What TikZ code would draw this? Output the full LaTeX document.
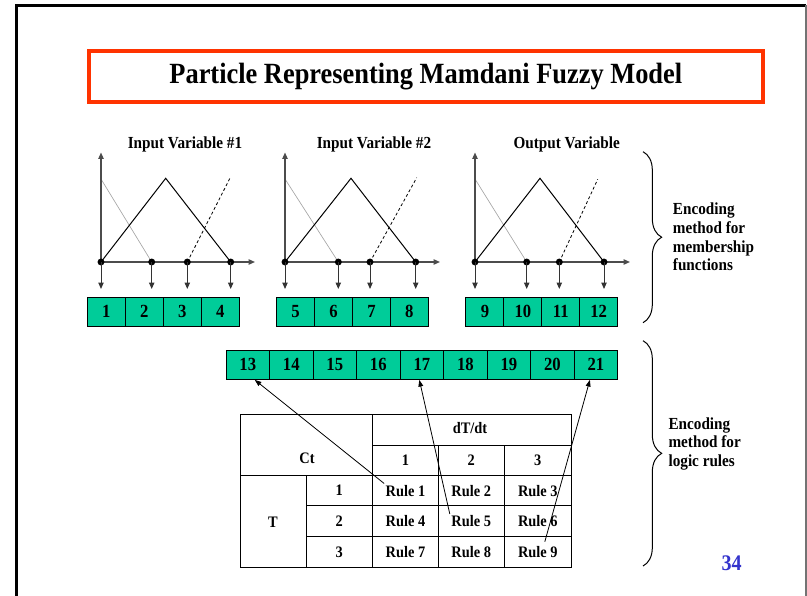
\documentclass[tikz,border=0pt]{standalone}
\usepackage{fontspec}
\setmainfont{Liberation Serif}[FakeStretch=0.9]
\usetikzlibrary{arrows.meta,calc,decorations.pathreplacing}
\definecolor{cellgreen}{RGB}{0,204,153}
\definecolor{titlered}{RGB}{255,51,0}
\definecolor{pageblue}{RGB}{51,51,204}
\tikzset{
  cell/.style={draw=black, line width=0.75pt, fill=cellgreen, inner sep=0pt,
    minimum width=28.5pt, minimum height=21.5pt,
    font=\bfseries\fontsize{13.9}{15}\selectfont},
  bigcell/.style={cell, minimum width=32.64pt, minimum height=22pt},
  dot/.style={circle, fill=black, inner sep=0pt, minimum size=5.2pt},
  axis/.style={draw=black!70, line width=1pt, -{Triangle[length=4.8pt,width=4pt]}},
  drop/.style={draw=black!80, line width=0.75pt, -{Triangle[length=4.8pt,width=4pt]}},
  mf/.style={draw=black, line width=0.75pt},
  mfgray/.style={draw=black!35, line width=0.5pt},
  mfdash/.style={draw=black, line width=0.6pt, dash pattern=on 2.2pt off 1.8pt},
  link/.style={draw=black, line width=0.6pt, -{Triangle[length=5pt,width=3.6pt]}},
  grid/.style={draw=black, line width=0.75pt},
  tabtext/.style={font=\bfseries\fontsize{12}{13}\selectfont, inner sep=1pt},
  gtitle/.style={font=\bfseries\fontsize{12.67}{14}\selectfont},
  notetext/.style={font=\bfseries\fontsize{12.67}{14}\selectfont, align=left, inner sep=0pt},
  curly/.style={draw=black, line width=0.75pt,
    decorate, decoration={brace, amplitude=14pt}},
}
\begin{document}
\begin{tikzpicture}[x=0.75pt, y=-0.75pt]
\useasboundingbox (0,0) rectangle (807,596);

% slide frame
\draw[line width=2.25pt] (16,600) -- (16,5) -- (806,5);
\draw[black!55, line width=1.5pt] (806,5) -- (806,600);

% title
\node[draw=titlered, line width=3pt, minimum width=505.8pt, minimum height=38.25pt,
      font=\bfseries\fontsize{22}{24}\selectfont] (title) at (425.8,76.5)
  {Particle Representing Mamdani Fuzzy Model};

% membership function plots
\node[gtitle] (h1) at (185,144) {Input Variable \#1};
\node[gtitle] (h2) at (374,144) {Input Variable \#2};
\node[gtitle] (h3) at (566.7,144) {Output Variable};

\foreach \g/\xo/\xg/\xd/\xr/\xp/\xe/\ye/\xa in
  {1/101/151.7/187.3/230.7/165.7/230.7/176.7/255,
   2/285/338.3/370/415.7/351/416.7/177.7/440,
   3/475/526.7/559.3/604/540/597.7/179.3/630}{
  \coordinate (q\g1) at (\xo,262);
  \coordinate (q\g2) at (\xg,262);
  \coordinate (q\g3) at (\xd,262);
  \coordinate (q\g4) at (\xr,262);
  \coordinate (top\g) at (\xo,152.5);
  \coordinate (end\g) at (\xa,262);
  \coordinate (pk\g) at (\xp,178.3);
  \coordinate (hi\g) at (\xo,179);
  \coordinate (de\g) at (\xe,\ye);
  \draw[mfgray] (hi\g) -- (q\g2);
  \draw[mf] (q\g1) -- (pk\g) -- (q\g4);
  \draw[mfdash] (q\g3) -- (de\g);
  \draw[axis] (q\g1) -- (top\g);
  \draw[axis] (q\g1) -- (end\g);
  \foreach \k in {1,...,4}{
    \node[dot] (m\g\k) at (q\g\k) {};
    \coordinate (t\g\k) at ($(q\g\k)+(0,27)$);
    \draw[drop] (m\g\k.center) -- (t\g\k);
  }
}

% encoded particle cells
\foreach \i in {1,...,4}
  \node[cell] (b\i) at ({87.3+38*(\i-0.5)},311.7) {\i};
\foreach \i in {5,...,8}
  \node[cell] (b\i) at ({276.7+37.9*(\i-4.5)},311.7) {\i};
\foreach \i in {9,...,12}
  \node[cell] (b\i) at ({466+37.9*(\i-8.5)},311.7) {\i};
\foreach \i in {13,...,21}
  \node[bigcell] (b\i) at ({226+43.52*(\i-12.5)},364.7) {\i};

% rule table grid
\draw[grid] (240,414.3) rectangle (571.7,567.3);
\draw[grid] (372.7,414.3) -- (372.7,567.3);
\draw[grid] (306,475.7) -- (306,567.3);
\draw[grid] (438.3,445) -- (438.3,567.3);
\draw[grid] (504,445) -- (504,567.3);
\draw[grid] (372.7,445) -- (571.7,445);
\draw[grid] (240,475.7) -- (571.7,475.7);
\draw[grid] (306,505.7) -- (571.7,505.7);
\draw[grid] (306,536.7) -- (571.7,536.7);

% table labels
\node[tabtext] (dtdt) at (470,428.5) {dT/dt};
\node[tabtext] (ct) at (307,458) {Ct};
\node[tabtext] (tt) at (273,522) {T};
\node[tabtext] (k1) at (405.5,460.3) {1};
\node[tabtext] (k2) at (471.2,460.3) {2};
\node[tabtext] (k3) at (537.8,460.3) {3};
\node[tabtext] (w1) at (339.3,490.7) {1};
\node[tabtext] (w2) at (339.3,521.2) {2};
\node[tabtext] (w3) at (339.3,552) {3};
\foreach \r/\y in {0/490.7,1/521.2,2/552}{
  \foreach \c/\x in {1/405.5,2/471.2,3/537.8}{
    \pgfmathtruncatemacro{\n}{3*\r+\c}
    \node[tabtext] (r\n) at (\x,\y) {Rule \n};
  }
}

% rule-to-cell links
\draw[link] (r1.north west) -- ($(b13.south)+(7,0)$);
\draw[link] (r5.north west) -- ($(b17.south)+(-2.5,0)$);
\draw[link] ($(r9.north)+(7,-3)$) -- ($(b21.south)+(-6,0)$);

% braces and notes
\draw[curly] (643,151.7) -- (643,322.7);
\draw[curly] (643,340.7) -- (643,566);
\node[notetext, anchor=west] (n1) at (672.7,237)
  {Encoding\\method for\\membership\\functions};
\node[notetext, anchor=west] (n2) at (668.3,443.7)
  {Encoding\\method for\\logic rules};

% page number
\node[text=pageblue, font=\bfseries\fontsize{16.7}{18}\selectfont] (pg) at (731.7,563) {34};
\end{tikzpicture}
\end{document}
